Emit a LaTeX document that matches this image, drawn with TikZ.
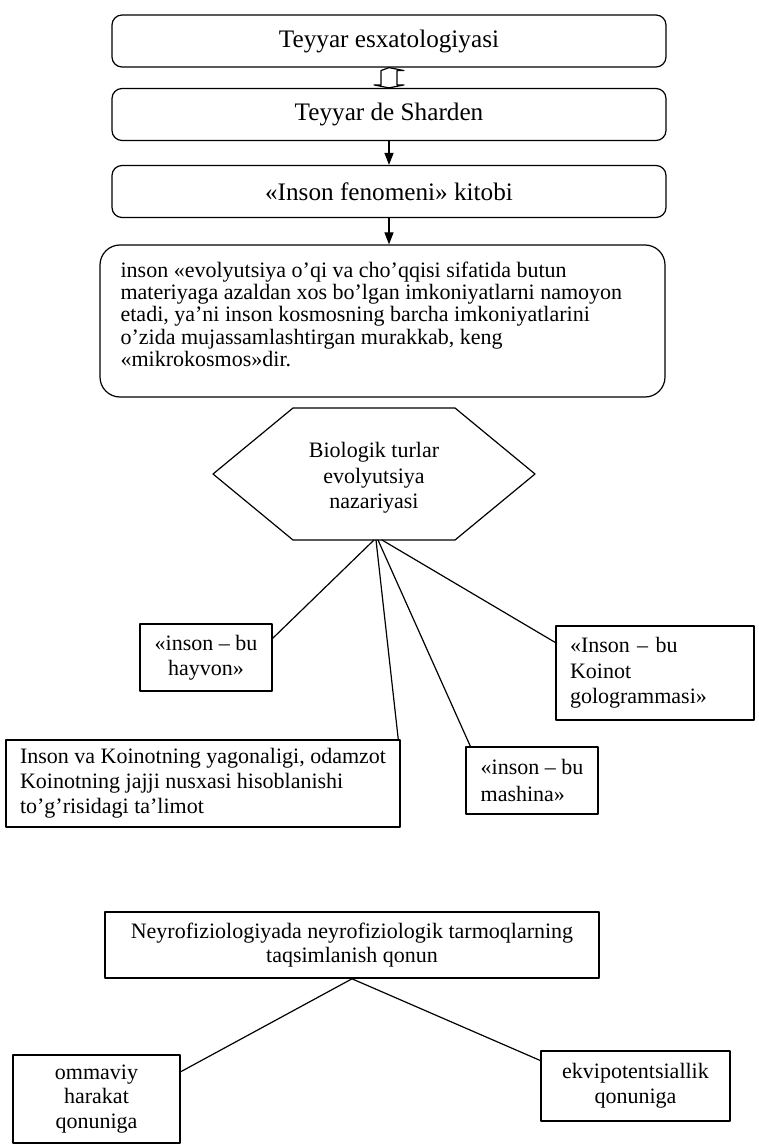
\documentclass[tikz,border=0pt]{standalone}
\usepackage{fontspec}
\setmainfont{Liberation Serif}
\usetikzlibrary{calc,arrows.meta}

\begin{document}
\begin{tikzpicture}[x=0.5pt, y=-0.5pt, line join=round, line cap=round, >={Triangle[length=6pt,width=4.5pt]}, semithick]
\tikzset{
  rbox/.style={draw, rounded corners=5pt, minimum width=277pt, minimum height=26pt, font=\fontsize{12.6}{14}\selectfont},
  cbox/.style={draw, align=center, inner sep=0pt, font=\fontsize{11}{12.5}\selectfont},
  lbox/.style={draw, align=left, inner xsep=7pt, inner ysep=0pt, font=\fontsize{11}{12.75}\selectfont}
}
\useasboundingbox (0,0) rectangle (759,1144);
\node[rbox] (esx) at (389,41) {Teyyar esxatologiyasi};
\node[rbox] (sha) at (389,114.5) {Teyyar de Sharden};
\node[rbox] (kit) at (389,191.5) {«Inson fenomeni» kitobi};
\node[draw, rounded corners=10pt, minimum width=282.5pt, minimum height=76pt] (ins) at (382.5,321) {};
\node[anchor=north west, align=left, inner sep=0pt, font=\fontsize{11}{11.2}\selectfont] (inst) at (120,261)
  {inson «evolyutsiya o’qi va cho’qqisi sifatida butun\\
   materiyaga azaldan xos bo’lgan imkoniyatlarni namoyon\\
   etadi, ya’ni inson kosmosning barcha imkoniyatlarini\\
   o’zida mujassamlashtirgan murakkab, keng\\
   «mikrokosmos»dir.};
\draw[fill=white] (esx.south) -- ++(15,3) -- ++(-7,0) -- ($(sha.north)+(8,-3)$) -- ++(7,0) -- (sha.north)
  -- ++(-15,-3) -- ++(7,0) -- ($(esx.south)+(-8,3)$) -- cycle;
\draw[->] (sha) -- (kit);
\draw[->] (kit.south) -- (kit.south |- ins.north);

\coordinate (hx) at (374,474);
\coordinate (hb) at (374,540);
\draw ($(hx)+(-81,-66)$) -- ++(162,0) -- ++(80,66) -- ++(-80,66) -- ++(-162,0) -- ++(-80,-66) -- cycle;
\node[align=center, font=\fontsize{11}{12.75}\selectfont] (bio) at (374,478) {Biologik turlar\\evolyutsiya\\nazariyasi};

\node[cbox, minimum width=66pt, minimum height=33.5pt] (hay) at (206,657.5) {«inson – bu\\hayvon»};
\node[lbox, text width=85pt, minimum height=47pt] (koi) at (655,673) {«Inson – bu\\Koinot\\gologrammasi»};
\node[lbox, very thick, inner xsep=0pt, minimum width=197pt, minimum height=43.5pt, font=\fontsize{11}{12.5}\selectfont] (uni) at (203,783.5)
  {Inson va Koinotning yagonaligi, odamzot\\Koinotning jajji nusxasi hisoblanishi\\to’g’risidagi ta’limot};
\node[lbox, inner xsep=0pt, minimum width=66pt, minimum height=33.5pt, font=\fontsize{11}{13.5}\selectfont] (mash) at (532,780.5) {«inson – bu\\mashina»};
\draw (hb) -- (hay.16);
\draw ($(hb)+(2,0)$) -- ($(uni.north east)+(-3,0)$);
\draw ($(hb)+(4,0)$) -- ($(mash.north west)+(5,0)$);
\draw ($(hb)+(8,0)$) -- (koi.163);

\node[cbox, thick, minimum width=247pt, minimum height=33pt, font=\fontsize{11}{12}\selectfont] (ney) at (352,945)
  {Neyrofiziologiyada neyrofiziologik tarmoqlarning\\taqsimlanish qonun};
\node[cbox, very thick, minimum width=83.5pt, minimum height=44pt, font=\fontsize{11}{12.25}\selectfont] (omm) at (96.5,1099) {ommaviy\\harakat\\qonuniga};
\node[cbox, thick, minimum width=94.5pt, minimum height=35pt] (ekv) at (635.5,1086) {ekvipotentsiallik\\qonuniga};
\draw (ney.south) -- (omm.18);
\draw (ney.south) -- (ekv.165);
\end{tikzpicture}
\end{document}
